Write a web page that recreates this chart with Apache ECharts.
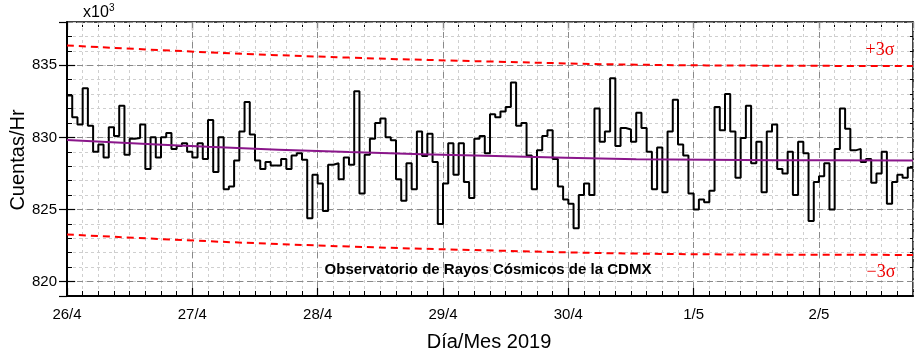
<!DOCTYPE html>
<html>
<head>
<meta charset="utf-8">
<script src="https://cdn.jsdelivr.net/npm/echarts@6/dist/echarts.min.js"></script>
<style>
html,body{margin:0;padding:0;background:#fff;}
#chart{width:920px;height:357px;}
</style>
</head>
<body>
<div id="chart"></div>
<script>
// Hourly counts (x10^3), starting 26/4 00:00
const counts = [
  832.9, 831.4, 830.9, 833.4, 830.8, 829.0, 829.5, 828.6, 830.7, 830.1, 832.2, 828.8,
  829.9, 829.95, 830.9, 827.8, 830.0, 828.6, 830.0, 830.3, 829.2, 829.4, 829.6, 829.0,
  828.6, 829.6, 828.5, 831.2, 827.6, 830.0, 826.4, 826.6, 828.4, 830.4, 832.45, 830.2,
  828.4, 827.8, 828.3, 828.05, 828.05, 828.5, 827.8, 828.75, 828.9, 828.45, 824.4, 827.4,
  826.8, 824.9, 828.1, 828.2, 827.1, 828.6, 828.1, 833.2, 826.1, 828.8, 829.9, 831.0,
  831.3, 830.0, 829.8, 827.1, 825.6, 828.2, 826.4, 830.4, 828.7, 830.25, 828.3, 824.0,
  826.8, 829.6, 827.4, 829.6, 826.9, 825.8, 829.9, 830.1, 828.9, 831.6, 831.4, 831.8,
  832.1, 833.8, 830.8, 831.0, 828.75, 826.4, 829.1, 830.1, 830.5, 828.5, 826.6, 825.7,
  825.4, 823.7, 826.0, 826.8, 826.0, 832.0, 829.7, 830.4, 834.1, 829.4, 830.65, 830.55,
  829.7, 831.7, 830.65, 829.0, 826.4, 829.3, 826.2, 830.4, 832.6, 829.5, 828.75, 826.1,
  825.0, 825.7, 825.5, 826.3, 832.1, 830.5, 833.0, 830.4, 827.2, 829.95, 832.2, 828.2,
  829.7, 826.2, 830.4, 830.9, 827.8, 827.5, 829.0, 826.0, 829.7, 828.9, 824.2, 826.9,
  827.3, 828.2, 825.0, 829.2, 832.0, 830.6, 829.1, 829.2, 828.3, 828.5, 826.85, 827.5,
  829.0, 825.4, 826.9, 827.4, 827.2, 827.9
];
// Trend and +/-3 sigma bands (read at these hours)
const trendHours  = [0, 27, 54, 82, 109, 136, 162];
const trendValues = [829.82, 829.35, 828.98, 828.70, 828.49, 828.42, 828.40];
const upperValues = [836.37, 835.90, 835.53, 835.25, 835.04, 834.97, 834.95];
const lowerValues = [823.27, 822.80, 822.43, 822.15, 821.94, 821.87, 821.85];
// Day tick labels (every 24 h)
const dayLabels = ['26/4', '27/4', '28/4', '29/4', '30/4', '1/5', '2/5'];
const yTickValues = [820, 825, 830, 835];

const X_MAX = counts.length;   // 162 hours
const Y_MIN = 819, Y_MAX = 838;

const stepData = counts.map((v, i) => [i, v]);
stepData.push([counts.length, counts[counts.length - 1]]);
const pairs = (xs, ys) => xs.map((x, i) => [x, ys[i]]);

const FONT = 'Liberation Sans, Arial, sans-serif';
const majorSplit = {show: true, lineStyle: {color: '#8a8a8a', type: [6, 4], width: 1}};
const minorSplit = {show: true, lineStyle: {color: '#cfcfcf', type: [3, 3], width: 1}};
const blackLine = w => ({show: true, onZero: false, lineStyle: {color: '#000', width: w}});

const chart = echarts.init(document.getElementById('chart'), null, {renderer: 'canvas'});
chart.setOption({
  animation: false,
  backgroundColor: '#fff',
  grid: {left: 67, right: 7, top: 22, bottom: 61, containLabel: false},
  xAxis: [
    { // major, bottom, labels
      type: 'value', position: 'bottom', min: 0, max: X_MAX, interval: 24,
      axisLine: blackLine(2),
      axisTick: {show: true, inside: true, length: 8, lineStyle: {color: '#000', width: 1.2}},
      axisLabel: {show: true, margin: 11, color: '#000', fontFamily: FONT, fontSize: 15,
        showMaxLabel: false,
        formatter: v => (v % 24 === 0 && dayLabels[v / 24] !== undefined) ? dayLabels[v / 24] : ''},
      splitLine: majorSplit, z: 3
    },
    { // minor, bottom
      type: 'value', position: 'bottom', min: 0, max: X_MAX, interval: 3,
      axisLine: {show: false},
      axisTick: {show: true, inside: true, length: 5, lineStyle: {color: '#000', width: 1}},
      axisLabel: {show: false},
      splitLine: minorSplit, z: 1
    },
    { // top minor
      type: 'value', position: 'top', min: 0, max: X_MAX, interval: 3,
      axisLine: blackLine(1.5),
      axisTick: {show: true, inside: true, length: 5, lineStyle: {color: '#000', width: 1}},
      axisLabel: {show: false}, splitLine: {show: false}
    },
    { // top major
      type: 'value', position: 'top', min: 0, max: X_MAX, interval: 24,
      axisLine: {show: false},
      axisTick: {show: true, inside: true, length: 8, lineStyle: {color: '#000', width: 1.2}},
      axisLabel: {show: false}, splitLine: {show: false}
    }
  ],
  yAxis: [
    { // major left with labels
      type: 'value', position: 'left', min: Y_MIN, max: Y_MAX, splitNumber: 4,
      axisLine: blackLine(2),
      axisTick: {show: true, inside: true, length: 8, lineStyle: {color: '#000', width: 1.2}},
      axisLabel: {show: true, margin: 10, color: '#000', fontFamily: FONT, fontSize: 15,
        showMinLabel: false, showMaxLabel: false,
        formatter: v => yTickValues.indexOf(v) >= 0 ? String(v) : ''},
      splitLine: majorSplit, z: 3
    },
    { // minor left
      type: 'value', position: 'left', min: Y_MIN, max: Y_MAX, interval: 1,
      axisLine: {show: false},
      axisTick: {show: true, inside: true, length: 5, lineStyle: {color: '#000', width: 1}},
      axisLabel: {show: false},
      splitLine: minorSplit, z: 1
    },
    { // right minor
      type: 'value', position: 'right', min: Y_MIN, max: Y_MAX, interval: 1,
      axisLine: blackLine(1.5),
      axisTick: {show: true, inside: true, length: 5, lineStyle: {color: '#000', width: 1}},
      axisLabel: {show: false}, splitLine: {show: false}
    },
    { // right major
      type: 'value', position: 'right', min: Y_MIN, max: Y_MAX, splitNumber: 4,
      axisLine: {show: false},
      axisTick: {show: true, inside: true, length: 8, lineStyle: {color: '#000', width: 1.2}},
      axisLabel: {show: false}, splitLine: {show: false}
    }
  ],
  series: [
    {
      type: 'line', name: 'upper', xAxisIndex: 0, yAxisIndex: 0, z: 4,
      data: pairs(trendHours, upperValues), smooth: 0.4, symbol: 'none',
      lineStyle: {color: '#ff0000', width: 2, type: [7, 5]}
    },
    {
      type: 'line', name: 'lower', xAxisIndex: 0, yAxisIndex: 0, z: 4,
      data: pairs(trendHours, lowerValues), smooth: 0.4, symbol: 'none',
      lineStyle: {color: '#ff0000', width: 2, type: [7, 5]}
    },
    {
      type: 'line', name: 'counts', xAxisIndex: 0, yAxisIndex: 0, z: 5,
      data: stepData, step: 'end', symbol: 'none',
      lineStyle: {color: '#000', width: 2}
    },
    {
      type: 'line', name: 'trend', xAxisIndex: 0, yAxisIndex: 0, z: 6,
      data: pairs(trendHours, trendValues), smooth: 0.4, symbol: 'none',
      lineStyle: {color: '#8a168a', width: 2}
    }
  ],
  graphic: [
    {type: 'text', x: 83, y: 21, style: {
      text: 'x10', fill: '#000', font: '16px ' + FONT, align: 'left', verticalAlign: 'bottom'}},
    {type: 'text', x: 109, y: 3, style: {
      text: '3', fill: '#000', font: '10px ' + FONT, align: 'left', verticalAlign: 'top'}},
    {type: 'text', x: 18, y: 160, rotation: Math.PI / 2, style: {
      text: 'Cuentas/Hr', fill: '#000', font: '20px ' + FONT, align: 'center', verticalAlign: 'middle'}},
    {type: 'text', x: 489, y: 342, style: {
      text: 'Día/Mes 2019', fill: '#000', font: '20px ' + FONT, align: 'center', verticalAlign: 'middle'}},
    {type: 'text', x: 488, y: 270, z: 10, style: {
      text: 'Observatorio de Rayos Cósmicos de la CDMX', fill: '#000',
      font: 'bold 15px ' + FONT, align: 'center', verticalAlign: 'middle'}},
    {type: 'text', x: 880, y: 50, z: 10, style: {
      text: '+3σ', fill: '#ee0000', font: '18px Liberation Serif, serif', align: 'center', verticalAlign: 'middle'}},
    {type: 'text', x: 881, y: 272, z: 10, style: {
      text: '\u22123σ', fill: '#ee0000', font: '18px Liberation Serif, serif', align: 'center', verticalAlign: 'middle'}}
  ]
});
</script>
</body>
</html>
